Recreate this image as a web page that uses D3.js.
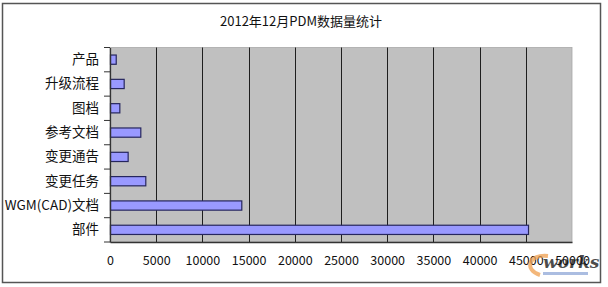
<!DOCTYPE html>
<html>
<head>
<meta charset="utf-8">
<script src="https://cdn.jsdelivr.net/npm/d3@7"></script>
<style>
  body { margin: 0; background: #fff; }
  text { font-family: SimSun, "Noto Sans CJK SC", sans-serif; fill: #111; }
</style>
</head>
<body>
<svg id="chart" width="608" height="287"></svg>
<script>
// data
const categories = ['产品', '升级流程', '图档', '参考文档', '变更通告', '变更任务', 'WGM(CAD)文档', '部件'];
const counts = [620, 1480, 1010, 3280, 1910, 3820, 14210, 45240];
const xTicks = [0, 5000, 10000, 15000, 20000, 25000, 30000, 35000, 40000, 45000, 50000];
const title = '2012年12月PDM数据量统计';

const width = 608, height = 287;
const plot = {left: 110, right: 572, top: 47.5, bottom: 242};

const svg = d3.select('#chart');

// outer frame
svg.append('rect')
  .attr('x', 2.5).attr('y', 3.5).attr('width', 598).attr('height', 279)
  .attr('fill', '#fff').attr('stroke', '#555').attr('stroke-width', 1.5);

svg.append('text')
  .attr('x', 301).attr('y', 26)
  .attr('text-anchor', 'middle')
  .style('font-size', '13px')
  .text(title);

const x = d3.scaleLinear().domain([0, 50000]).range([plot.left, plot.right]);
const y = d3.scaleBand().domain(categories).range([plot.top, plot.bottom])
  .paddingInner(0.62).paddingOuter(0.31);

// plot area
svg.append('rect')
  .attr('x', plot.left).attr('y', plot.top)
  .attr('width', plot.right - plot.left).attr('height', plot.bottom - plot.top)
  .attr('fill', '#c0c0c0').attr('stroke', '#a8a8a8').attr('stroke-width', 0.8);

// vertical gridlines
svg.append('g').selectAll('line')
  .data(xTicks.filter(d => d > 0 && d < 50000))
  .join('line')
  .attr('x1', d => Math.round(x(d)) + 0.5).attr('x2', d => Math.round(x(d)) + 0.5)
  .attr('y1', plot.top).attr('y2', plot.bottom)
  .attr('stroke', '#1e1e1e').attr('stroke-width', 1);

// bars
svg.append('g').selectAll('rect')
  .data(categories)
  .join('rect')
  .attr('x', x(0) + 0.5)
  .attr('y', d => y(d))
  .attr('width', (d, i) => x(counts[i]) - x(0))
  .attr('height', y.bandwidth())
  .attr('fill', '#9999ff')
  .attr('stroke', '#26265e')
  .attr('stroke-width', 1.2);

// left axis: labels + boundary ticks
const yAxis = d3.axisLeft(y).tickSize(0).tickPadding(11);
const gy = svg.append('g').attr('transform', `translate(${plot.left},0)`).call(yAxis);
gy.select('.domain').attr('stroke', '#333').attr('stroke-width', 1.3);
gy.selectAll('text').style('font-size', '13.5px').attr('fill', '#111');

const step = y.step();
const bounds = d3.range(categories.length + 1).map(i => plot.top + i * step);
gy.selectAll('.bound')
  .data(bounds)
  .join('line')
  .attr('class', 'bound')
  .attr('x1', -6).attr('x2', 0)
  .attr('y1', d => d).attr('y2', d => d)
  .attr('stroke', '#333');

// bottom axis
const xAxis = d3.axisBottom(x).tickValues(xTicks).tickSize(0).tickPadding(14).tickFormat(d3.format('d'));
const gx = svg.append('g').attr('transform', `translate(0,${plot.bottom})`).call(xAxis);
gx.select('.domain').attr('stroke', '#333').attr('stroke-width', 1.3);
gx.selectAll('text').style('font-size', '12.5px').attr('fill', '#111');

// e-works watermark
const wm = svg.append('g').attr('opacity', 0.75);
wm.append('path')
  .attr('d', 'M548,256 C528,254 524,270 540,275')
  .attr('fill', 'none').attr('stroke', '#f0a050').attr('stroke-width', 4);
wm.append('rect')
  .attr('x', 543).attr('y', 272).attr('width', 45).attr('height', 3)
  .attr('fill', '#8fa8d8');
wm.append('text')
  .attr('x', 543).attr('y', 268)
  .style('font-family', '"DejaVu Serif", serif')
  .style('font-style', 'italic').style('font-weight', 'bold').style('font-size', '17px')
  .attr('fill', '#777')
  .text('works');
</script>
</body>
</html>
